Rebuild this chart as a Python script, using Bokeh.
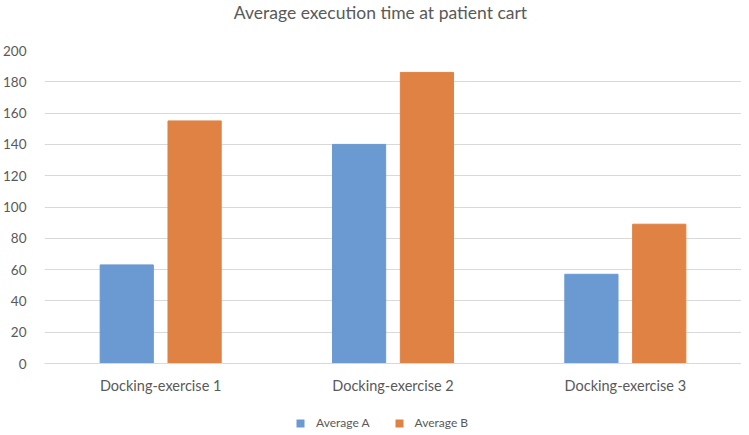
from bokeh.plotting import figure
from bokeh.layouts import column
from bokeh.models import ColumnDataSource, FactorRange, Range1d, Legend, LegendItem, FixedTicker, Label
from bokeh.transform import dodge
from bokeh.embed import file_html
from bokeh.resources import INLINE

categories = ["Docking-exercise 1", "Docking-exercise 2", "Docking-exercise 3"]
average_a = [63, 140, 57]
average_b = [155, 186, 89]
y_ticks = [0, 20, 40, 60, 80, 100, 120, 140, 160, 180, 200]
title_text = "Average execution time at patient cart"
series_names = ["Average A", "Average B"]

FONT = "Lato"
TEXT = "#595959"
GRID = "#D9D9D9"
BLUE = "#6A9AD1"
ORANGE = "#DF8244"

W = 733
FW, FH = 697, 313
TITLE_H = 42

src = ColumnDataSource(dict(cat=categories, a=average_a, b=average_b))


def blank_fig(height, x_range):
    f = figure(width=W, height=height, x_range=x_range, y_range=Range1d(-2, -1),
               x_axis_type=None, y_axis_type=None, output_backend="svg",
               toolbar_location=None, min_border=0)
    f.outline_line_color = None
    f.xgrid.visible = False
    f.ygrid.visible = False
    return f


# ---- title strip (frame aligned with main chart frame) ----
tf = blank_fig(TITLE_H, Range1d(0, 1))
tf.add_layout(Label(x=336, y=TITLE_H - 1, x_units="screen", y_units="screen", text=title_text,
                    text_align="center", text_baseline="top", text_font=FONT,
                    text_font_size="17.5px", text_color=TEXT))

# ---- main chart ----
p = figure(frame_width=FW, frame_height=FH, x_range=FactorRange(*categories, range_padding=0),
           y_range=Range1d(0, 200), output_backend="svg", toolbar_location=None,
           min_border_left=36, min_border_right=0, min_border_top=8, min_border_bottom=30)

p.vbar(x=dodge("cat", -0.146, range=p.x_range), top="a", width=0.229, source=src,
       fill_color=BLUE, line_color=BLUE)
p.vbar(x=dodge("cat", 0.146, range=p.x_range), top="b", width=0.229, source=src,
       fill_color=ORANGE, line_color=ORANGE)

p.outline_line_color = None
p.xgrid.grid_line_color = None
p.ygrid.grid_line_color = GRID
p.ygrid.grid_line_width = 1
p.yaxis.ticker = FixedTicker(ticks=y_ticks)

p.yaxis.axis_line_color = None
p.yaxis.major_tick_line_color = None
p.yaxis.minor_tick_line_color = None
p.yaxis.major_label_text_font = FONT
p.yaxis.major_label_text_font_size = "13.5px"
p.yaxis.major_label_text_color = TEXT
p.yaxis.major_label_standoff = 12

p.xaxis.axis_line_color = GRID
p.xaxis.major_tick_line_color = None
p.xaxis.minor_tick_line_color = None
p.xaxis.major_label_text_font = FONT
p.xaxis.major_label_text_font_size = "14.5px"
p.xaxis.major_label_text_color = TEXT
p.xaxis.major_label_standoff = 7

# ---- legend strip (zero-width bars outside its y-range; only the legend shows) ----
lf = blank_fig(34, FactorRange(*categories, range_padding=0))
la = lf.vbar(x="cat", top="a", width=0.0, source=src, fill_color=BLUE, line_color=None)
lb = lf.vbar(x="cat", top="b", width=0.0, source=src, fill_color=ORANGE, line_color=None)
legend = Legend(items=[LegendItem(label=series_names[0], renderers=[la]),
                       LegendItem(label=series_names[1], renderers=[lb])],
                orientation="horizontal", location=(251, 0))
legend.border_line_color = None
legend.background_fill_alpha = 0
legend.label_text_font = FONT
legend.label_text_font_size = "12px"
legend.label_text_color = TEXT
legend.glyph_width = 10
legend.glyph_height = 10
legend.spacing = 24
legend.padding = 1
legend.margin = 0
legend.label_standoff = 11
lf.add_layout(legend, "center")

layout = column(tf, p, lf, spacing=0)
open("out.html", "w").write(file_html(layout, INLINE))
